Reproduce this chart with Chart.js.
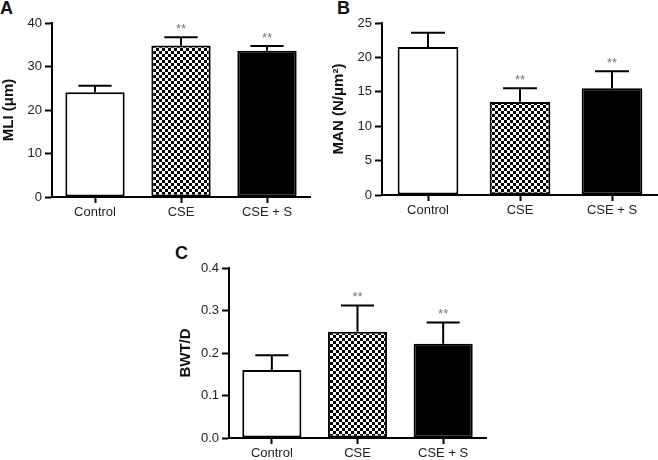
<!DOCTYPE html>
<html>
<head>
<meta charset="utf-8">
<script src="https://cdn.jsdelivr.net/npm/chart.js@4.4.0/dist/chart.umd.min.js"></script>
<style>
  html, body { margin: 0; padding: 0; background: #fff; }
  #wrap { position: relative; width: 658px; height: 460px; overflow: hidden; font-family: "Liberation Sans", Arial, sans-serif; }
  .panel { position: absolute; }
  .letter { position: absolute; font: bold 18px "Liberation Sans", Arial, sans-serif; color: #111; }
</style>
</head>
<body>
<div id="wrap">
  <div class="letter" style="left:0;top:-2px">A</div>
  <div class="letter" style="left:337px;top:-2px">B</div>
  <div class="letter" style="left:175px;top:243px">C</div>
  <div class="panel" style="left:0;top:0"><canvas id="chartA" width="315" height="225"></canvas></div>
  <div class="panel" style="left:330px;top:0"><canvas id="chartB" width="328" height="225"></canvas></div>
  <div class="panel" style="left:177px;top:245px"><canvas id="chartC" width="310" height="215"></canvas></div>
</div>
<script>
'use strict';

// ============================================================
// DATA
// ============================================================
const categories = ['Control', 'CSE', 'CSE + S'];
const signif     = ['', '**', '**'];

const mliMeans = [24.1, 34.8, 33.6];
const mliErr   = [1.5, 1.9, 1.1];
const mliTicks = [0, 10, 20, 30, 40];

const manMeans = [21.5, 13.5, 15.5];
const manErr   = [2.1, 2.0, 2.5];
const manTicks = [0, 5, 10, 15, 20, 25];

const bwtMeans = [0.16, 0.25, 0.222];
const bwtErr   = [0.035, 0.062, 0.05];
const bwtTicks = [0, 0.1, 0.2, 0.3, 0.4];

// ============================================================
// HELPERS
// ============================================================
const FONT = '"Liberation Sans", Arial, sans-serif';

function checkerPattern() {
  const c = document.createElement('canvas');
  c.width = 6; c.height = 6;
  const g = c.getContext('2d');
  g.fillStyle = '#fff'; g.fillRect(0, 0, 6, 6);
  g.fillStyle = '#000'; g.fillRect(0, 0, 3, 3); g.fillRect(3, 3, 3, 3);
  return g.createPattern(c, 'repeat');
}

// error bars (upper only) and significance stars
const errorBarPlugin = {
  id: 'errorBars',
  afterDatasetsDraw(chart, args, opts) {
    const ctx = chart.ctx;
    const meta = chart.getDatasetMeta(0);
    const y = chart.scales.y;
    ctx.save();
    ctx.strokeStyle = '#000';
    ctx.lineWidth = 2;
    meta.data.forEach((bar, i) => {
      const top = y.getPixelForValue(opts.means[i] + opts.errs[i]);
      const half = bar.width * 0.28;
      ctx.beginPath();
      ctx.moveTo(bar.x, bar.y);
      ctx.lineTo(bar.x, top);
      ctx.moveTo(bar.x - half, top);
      ctx.lineTo(bar.x + half, top);
      ctx.stroke();
      if (opts.stars[i]) {
        ctx.fillStyle = '#777';
        ctx.font = '13px ' + FONT;
        ctx.textAlign = 'center';
        ctx.textBaseline = 'bottom';
        ctx.fillText(opts.stars[i], bar.x, top - 1);
      }
    });
    ctx.restore();
  }
};

function makeChart(id, means, errs, ticks, title, xHeight, padRight, barPct, fmt) {
  const max = ticks[ticks.length - 1];
  return new Chart(document.getElementById(id), {
    type: 'bar',
    data: {
      labels: categories,
      datasets: [{
        data: means,
        backgroundColor: ['#fff', checkerPattern(), '#000'],
        borderColor: '#000',
        borderWidth: 2,
        borderSkipped: false,
        categoryPercentage: 1,
        barPercentage: barPct,
      }]
    },
    options: {
      responsive: false,
      animation: false,
      events: [],
      layout: { padding: { top: 23, right: padRight, left: 0, bottom: 0 } },
      plugins: {
        legend: { display: false },
        tooltip: { enabled: false },
        errorBars: { means: means, errs: errs, stars: signif },
      },
      scales: {
        x: {
          grid: { display: true, offset: false, drawOnChartArea: false, tickLength: 6, tickWidth: 2, tickColor: '#000' },
          border: { display: true, color: '#000', width: 2 },
          ticks: { color: '#222', font: { family: FONT, size: 13 }, padding: 2 },
          afterFit: s => { s.height = xHeight; },
        },
        y: {
          min: 0, max: max,
          afterBuildTicks: s => { s.ticks = ticks.map(v => ({ value: v })); },
          grid: { display: true, drawOnChartArea: false, tickLength: 7, tickWidth: 2, tickColor: '#000' },
          border: { display: true, color: '#000', width: 2 },
          ticks: { color: '#222', font: { family: FONT, size: 13 }, padding: 3, callback: fmt },
          title: { display: true, text: title, color: '#111', font: { family: FONT, size: 15, weight: 'bold' }, padding: 0 },
          afterFit: s => { s.width = 52; },
        }
      }
    },
    plugins: [errorBarPlugin]
  });
}

// ============================================================
// INIT
// ============================================================
makeChart('chartA', mliMeans, mliErr, mliTicks, 'MLI (μm)', 28, 5, 0.69, v => v);
makeChart('chartB', manMeans, manErr, manTicks, 'MAN (N/μm²)', 30, 0, 0.66, v => v);
makeChart('chartC', bwtMeans, bwtErr, bwtTicks, 'BWT/D', 22, 1, 0.69, v => Number(v).toFixed(1));
</script>
</body>
</html>
